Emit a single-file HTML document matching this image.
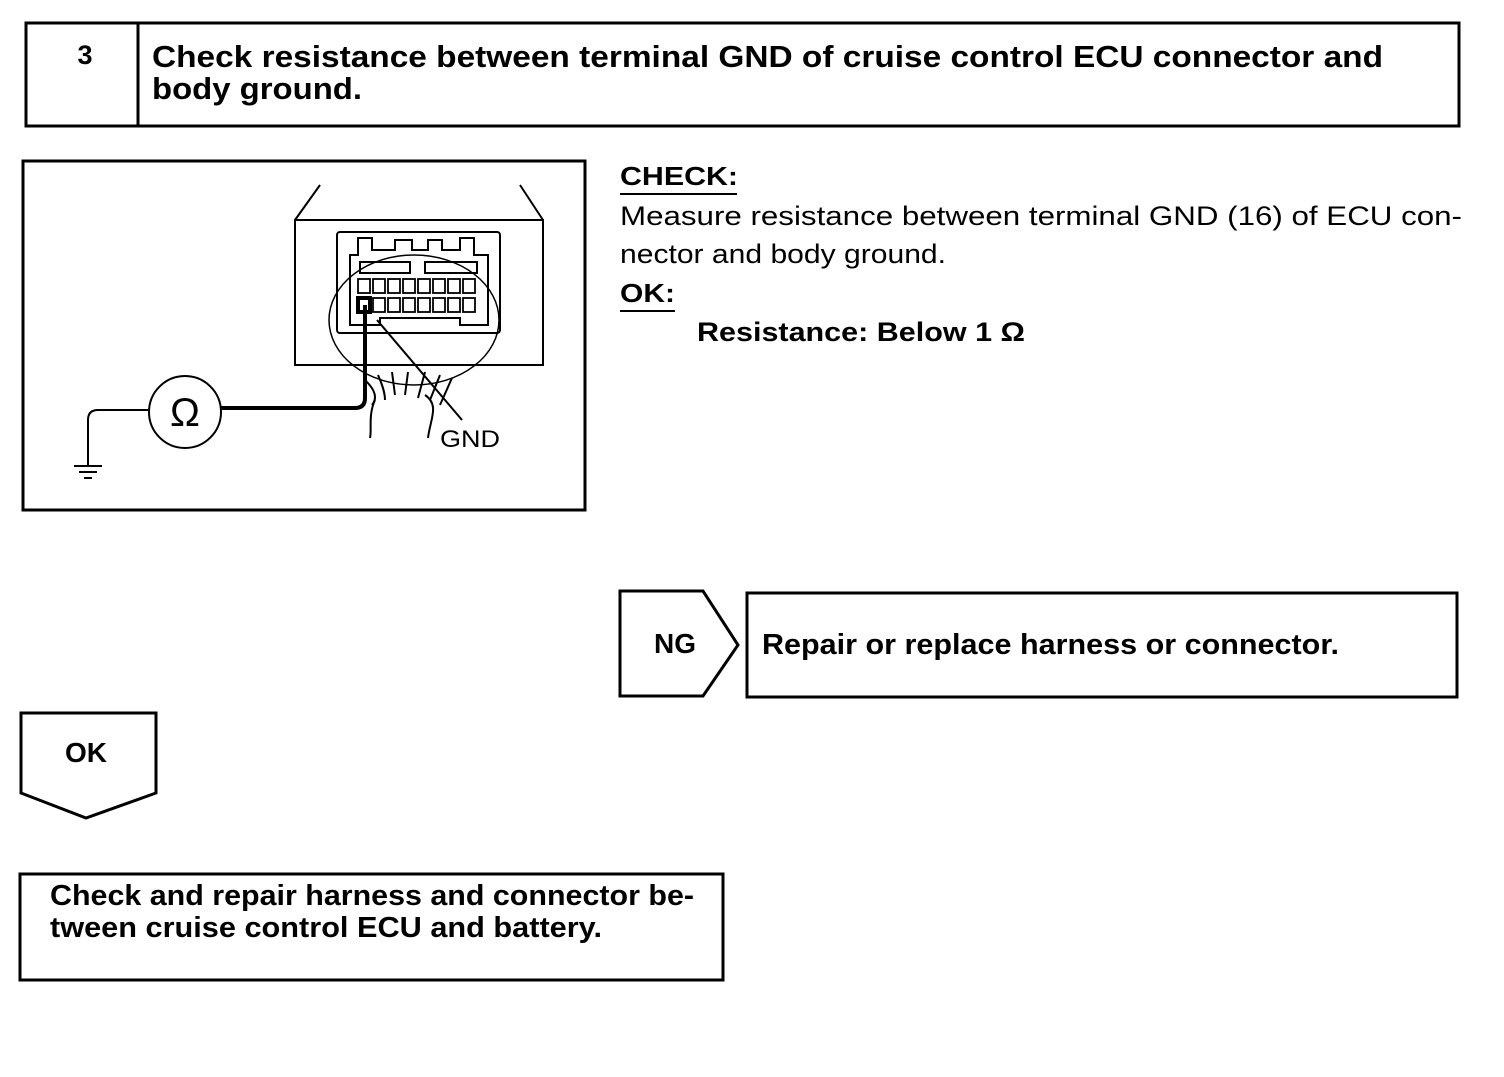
<!DOCTYPE html>
<html><head><style>
body{margin:0;background:#fff;}
svg text{font-family:"Liberation Sans",sans-serif;fill:#000;}
</style></head><body>
<svg width="1504" height="1072" viewBox="0 0 1504 1072" xmlns="http://www.w3.org/2000/svg">
<g fill="none" stroke="#000" stroke-width="3">
<rect x="26" y="23" width="1433" height="103"/>
<line x1="138" y1="23" x2="138" y2="126"/>
<rect x="23" y="161" width="562" height="349"/>
<polygon points="620,591 703,591 738,645 703,696 620,696"/>
<rect x="747" y="593" width="710" height="104"/>
<polygon points="21,713 156,713 156,793 86,818 21,793"/>
<rect x="20" y="874" width="703" height="106"/>
</g>
<g fill="none" stroke="#000" stroke-width="2">
<line x1="320" y1="185" x2="295" y2="220"/>
<line x1="520" y1="185" x2="543" y2="220"/>
<rect x="295" y="220" width="248" height="145"/>
<rect x="337" y="232" width="163" height="101" rx="3"/>
<path d="M350,325 V255 H358 V238 H372 V250 H395 V240 H412 V250 H428 V240 H442 V250 H460 V238 H474 V255 H488 V325 H460 V318 H380 V325 Z"/>
<rect x="360" y="262" width="50" height="11"/>
<rect x="425" y="262" width="52" height="11"/>
<ellipse cx="414" cy="320" rx="85" ry="65" stroke-width="1.5"/>
<path d="M372,405 C380,395 370,385 365,380 M385,400 C385,390 380,380 378,375 M395,395 L392,372 M405,395 L408,372 M418,398 L425,372 M430,400 L440,375 M440,405 L452,378 M375,400 C368,415 372,430 370,438 M425,395 C440,405 430,420 428,438"/>
<circle cx="185" cy="412" r="36"/>
<path d="M148,410 H98 Q88,410 88,420 V465"/>
<line x1="74" y1="466" x2="102" y2="466"/>
<line x1="79" y1="472" x2="97" y2="472"/>
<line x1="84" y1="478" x2="92" y2="478"/>
<line x1="377" y1="320" x2="462" y2="420"/>
</g>
<g fill="none" stroke="#000" stroke-width="1.8">
<rect x="358" y="279" width="12" height="14"/><rect x="373" y="279" width="12" height="14"/><rect x="388" y="279" width="12" height="14"/><rect x="403" y="279" width="12" height="14"/><rect x="418" y="279" width="12" height="14"/><rect x="433" y="279" width="12" height="14"/><rect x="448" y="279" width="12" height="14"/><rect x="463" y="279" width="12" height="14"/>
<rect x="358" y="298" width="12" height="14" stroke-width="4"/><rect x="373" y="298" width="12" height="14"/><rect x="388" y="298" width="12" height="14"/><rect x="403" y="298" width="12" height="14"/><rect x="418" y="298" width="12" height="14"/><rect x="433" y="298" width="12" height="14"/><rect x="448" y="298" width="12" height="14"/><rect x="463" y="298" width="12" height="14"/>
</g>
<path d="M365,305 V398 Q365,408 355,408 H221" fill="none" stroke="#000" stroke-width="4"/>
<text x="185" y="426" font-size="40" text-anchor="middle">Ω</text>
<text x="440" y="447" font-size="24" textLength="60" lengthAdjust="spacingAndGlyphs">GND</text>
<text x="85" y="64" font-size="27" font-weight="bold" text-anchor="middle">3</text>
<text x="152" y="67" font-size="31" font-weight="bold" textLength="1231" lengthAdjust="spacingAndGlyphs">Check resistance between terminal GND of cruise control ECU connector and</text>
<text x="152" y="99" font-size="31" font-weight="bold" textLength="210" lengthAdjust="spacingAndGlyphs">body ground.</text>
<text x="620" y="185" font-size="26" font-weight="bold" textLength="118" lengthAdjust="spacingAndGlyphs">CHECK:</text>
<line x1="620" y1="194" x2="737" y2="194" stroke="#000" stroke-width="2"/>
<text x="620" y="225" font-size="27" textLength="842" lengthAdjust="spacingAndGlyphs">Measure resistance between terminal GND (16) of ECU con-</text>
<text x="620" y="263" font-size="27" textLength="326" lengthAdjust="spacingAndGlyphs">nector and body ground.</text>
<text x="620" y="302" font-size="26" font-weight="bold" textLength="55" lengthAdjust="spacingAndGlyphs">OK:</text>
<line x1="620" y1="311" x2="675" y2="311" stroke="#000" stroke-width="2"/>
<text x="697" y="341" font-size="27" font-weight="bold" textLength="328" lengthAdjust="spacingAndGlyphs">Resistance: Below 1 Ω</text>
<text x="675" y="653" font-size="28" font-weight="bold" text-anchor="middle">NG</text>
<text x="762" y="654" font-size="29" font-weight="bold" textLength="577" lengthAdjust="spacingAndGlyphs">Repair or replace harness or connector.</text>
<text x="86" y="762" font-size="28" font-weight="bold" text-anchor="middle">OK</text>
<text x="50" y="905" font-size="29" font-weight="bold" textLength="644" lengthAdjust="spacingAndGlyphs">Check and repair harness and connector be-</text>
<text x="50" y="937" font-size="29" font-weight="bold" textLength="552" lengthAdjust="spacingAndGlyphs">tween cruise control ECU and battery.</text>
</svg>
</body></html>
